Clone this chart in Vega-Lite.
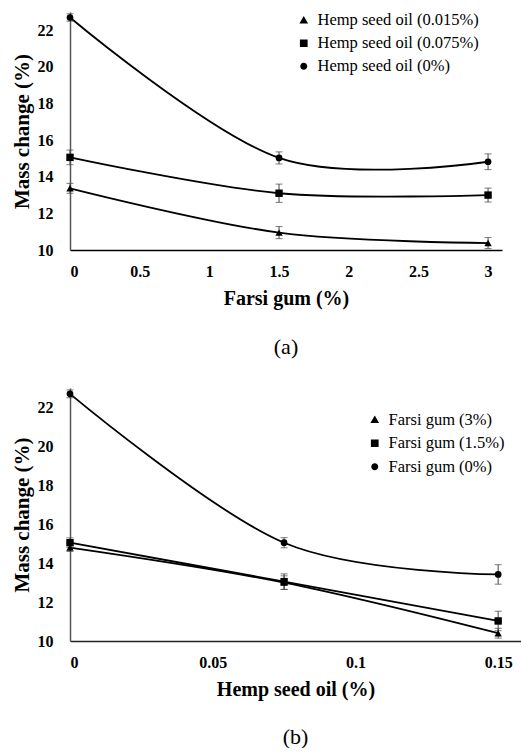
{
  "$schema": "https://vega.github.io/schema/vega-lite/v6.json",
  "padding": {"left": 11, "top": 12, "right": 0, "bottom": 0},
  "spacing": 30,
  "resolve": {"scale": {"shape": "independent"}, "legend": {"shape": "independent"}},
  "config": {
    "view": {"stroke": null},
    "font": "Liberation Serif",
    "axis": {
      "grid": false, "ticks": false, "tickSize": 0,
      "labelFont": "Liberation Serif", "labelFontSize": 16, "labelFontWeight": "bold", "labelColor": "black",
      "titleFont": "Liberation Serif", "titleFontSize": 20, "titleFontWeight": "bold", "titleColor": "black"
    },
    "legend": {"labelFont": "Liberation Serif", "labelFontSize": 16.5, "labelColor": "black", "labelFontWeight": "normal", "labelLimit": 400,
      "symbolStrokeColor": "black", "symbolStrokeWidth": 1.6, "symbolFillColor": "black"},
    "title": {"font": "Liberation Serif", "fontSize": 22, "fontWeight": "normal", "color": "black"}
  },
  "datasets": {
    "a": [
      {"series": "Hemp seed oil (0.015%)", "x": 0, "y": 13.37, "err": 0.27},
      {"series": "Hemp seed oil (0.015%)", "x": 1.5, "y": 10.95, "err": 0.33},
      {"series": "Hemp seed oil (0.015%)", "x": 3, "y": 10.38, "err": 0.3},
      {"series": "Hemp seed oil (0.075%)", "x": 0, "y": 15.06, "err": 0.4},
      {"series": "Hemp seed oil (0.075%)", "x": 1.5, "y": 13.1, "err": 0.5},
      {"series": "Hemp seed oil (0.075%)", "x": 3, "y": 13.0, "err": 0.38},
      {"series": "Hemp seed oil (0%)", "x": 0, "y": 22.7, "err": 0.2},
      {"series": "Hemp seed oil (0%)", "x": 1.5, "y": 15.03, "err": 0.33},
      {"series": "Hemp seed oil (0%)", "x": 3, "y": 14.82, "err": 0.43}
    ],
    "b": [
      {"series": "Farsi gum (3%)", "x": 0, "y": 14.8, "err": 0.2},
      {"series": "Farsi gum (3%)", "x": 0.075, "y": 13.0, "err": 0.35},
      {"series": "Farsi gum (3%)", "x": 0.15, "y": 10.4, "err": 0.25},
      {"series": "Farsi gum (1.5%)", "x": 0, "y": 15.05, "err": 0.25},
      {"series": "Farsi gum (1.5%)", "x": 0.075, "y": 13.05, "err": 0.4},
      {"series": "Farsi gum (1.5%)", "x": 0.15, "y": 11.03, "err": 0.5},
      {"series": "Farsi gum (0%)", "x": 0, "y": 22.7, "err": 0.2},
      {"series": "Farsi gum (0%)", "x": 0.075, "y": 15.05, "err": 0.26},
      {"series": "Farsi gum (0%)", "x": 0.15, "y": 13.42, "err": 0.5}
    ]
  },
  "vconcat": [
    {
      "width": 432, "height": 238,
      "title": {"text": "(a)", "orient": "bottom", "anchor": "middle", "offset": 29, "font": "Liberation Serif"},
      "encoding": {
        "x": {"field": "x", "type": "quantitative",
          "scale": {"domain": [0, 3.1], "nice": false, "zero": false},
          "axis": {"values": [0, 0.5, 1, 1.5, 2, 2.5, 3], "labelExpr": "'' + datum.value", "title": "Farsi gum (%)", "labelPadding": 13, "titlePadding": 9, "domainColor": "black", "domainWidth": 1.5}},
        "y": {"field": "y", "type": "quantitative",
          "scale": {"domain": [10, 23], "nice": false, "zero": false},
          "axis": {"values": [10, 12, 14, 16, 18, 20, 22], "title": "Mass change (%)", "titleFontSize": 21, "labelPadding": 17, "titlePadding": 5, "domainColor": "#555", "domainWidth": 1.5}}
      },
      "layer": [
        {"data": {"name": "a"}, "mark": {"type": "line", "interpolate": "cardinal", "color": "black", "strokeWidth": 1.8},
         "encoding": {"detail": {"field": "series"}}},
        {"data": {"name": "a"}, "mark": {"type": "errorbar", "ticks": {"size": 7}, "color": "#444", "thickness": 1},
         "encoding": {"yError": {"field": "err"}}},
        {"data": {"name": "a"}, "transform": [{"filter": "datum.series === 'Hemp seed oil (0.015%)'"}],
         "mark": {"type": "point", "filled": true, "color": "black", "opacity": 1, "size": 55, "shape": "triangle-up"}},
        {"data": {"name": "a"}, "transform": [{"filter": "datum.series === 'Hemp seed oil (0.075%)'"}],
         "mark": {"type": "point", "filled": true, "color": "black", "opacity": 1, "size": 55, "shape": "square"}},
        {"data": {"name": "a"}, "transform": [{"filter": "datum.series === 'Hemp seed oil (0%)'"}],
         "mark": {"type": "point", "filled": true, "color": "black", "opacity": 1, "size": 45, "shape": "circle"}},
        {"data": {"values": []}, "mark": {"type": "point", "filled": false, "color": "black", "fill": "black", "fillOpacity": 1, "strokeWidth": 1.6, "opacity": 1, "size": 49},
         "encoding": {
           "shape": {"field": "series", "type": "nominal",
             "scale": {"domain": ["Hemp seed oil (0.015%)", "Hemp seed oil (0.075%)", "Hemp seed oil (0%)"],
               "range": ["M-4.5,0L4.5,0M0,-1.2L1.25,0.95L-1.25,0.95Z", "M-4.5,0L4.5,0M-1.1,-1.1L1.1,-1.1L1.1,1.1L-1.1,1.1Z", "M-4.5,0L4.5,0M-1,0A1,1,0,1,1,1,0A1,1,0,1,1,-1,0Z"]},
             "legend": {"title": null, "orient": "none", "legendX": 225.5, "legendY": 0, "rowPadding": 6, "labelOffset": 5.5, "symbolSize": 49,
               "symbolStrokeColor": "black", "symbolStrokeWidth": 1.6,
               "encode": {"symbols": {"stroke": {"value": "black"}, "strokeWidth": {"value": 1.6}, "fill": {"value": "black"}, "fillOpacity": {"value": 1}}}}}}}
      ]
    },
    {
      "width": 451, "height": 253,
      "title": {"text": "(b)", "orient": "bottom", "anchor": "middle", "offset": 28, "font": "Liberation Serif"},
      "encoding": {
        "x": {"field": "x", "type": "quantitative",
          "scale": {"domain": [0, 0.158], "nice": false, "zero": false},
          "axis": {"values": [0, 0.05, 0.1, 0.15], "labelExpr": "'' + datum.value", "title": "Hemp seed oil (%)", "labelPadding": 13, "titlePadding": 9, "domainColor": "#222", "domainWidth": 1.5}},
        "y": {"field": "y", "type": "quantitative",
          "scale": {"domain": [10, 23], "nice": false, "zero": false},
          "axis": {"values": [10, 12, 14, 16, 18, 20, 22], "title": "Mass change (%)", "titleFontSize": 21, "labelPadding": 17, "titlePadding": 5, "domainColor": "#555", "domainWidth": 1.5}}
      },
      "layer": [
        {"data": {"name": "b"}, "mark": {"type": "line", "interpolate": "cardinal", "color": "black", "strokeWidth": 1.8},
         "encoding": {"detail": {"field": "series"}}},
        {"data": {"name": "b"}, "mark": {"type": "errorbar", "ticks": {"size": 7}, "color": "#444", "thickness": 1},
         "encoding": {"yError": {"field": "err"}}},
        {"data": {"name": "b"}, "transform": [{"filter": "datum.series === 'Farsi gum (3%)'"}],
         "mark": {"type": "point", "filled": true, "color": "black", "opacity": 1, "size": 55, "shape": "triangle-up"}},
        {"data": {"name": "b"}, "transform": [{"filter": "datum.series === 'Farsi gum (1.5%)'"}],
         "mark": {"type": "point", "filled": true, "color": "black", "opacity": 1, "size": 55, "shape": "square"}},
        {"data": {"name": "b"}, "transform": [{"filter": "datum.series === 'Farsi gum (0%)'"}],
         "mark": {"type": "point", "filled": true, "color": "black", "opacity": 1, "size": 45, "shape": "circle"}},
        {"data": {"values": []}, "mark": {"type": "point", "filled": false, "color": "black", "fill": "black", "fillOpacity": 1, "strokeWidth": 1.6, "opacity": 1, "size": 49},
         "encoding": {
           "shape": {"field": "series", "type": "nominal",
             "scale": {"domain": ["Farsi gum (3%)", "Farsi gum (1.5%)", "Farsi gum (0%)"],
               "range": ["M-4.5,0L4.5,0M0,-1.2L1.25,0.95L-1.25,0.95Z", "M-4.5,0L4.5,0M-1.1,-1.1L1.1,-1.1L1.1,1.1L-1.1,1.1Z", "M-4.5,0L4.5,0M-1,0A1,1,0,1,1,1,0A1,1,0,1,1,-1,0Z"]},
             "legend": {"title": null, "orient": "none", "legendX": 296.5, "legendY": 23.5, "rowPadding": 6.5, "labelOffset": 5.5, "symbolSize": 49,
               "symbolStrokeColor": "black", "symbolStrokeWidth": 1.6,
               "encode": {"symbols": {"stroke": {"value": "black"}, "strokeWidth": {"value": 1.6}, "fill": {"value": "black"}, "fillOpacity": {"value": 1}}}}}}}
      ]
    }
  ]
}
